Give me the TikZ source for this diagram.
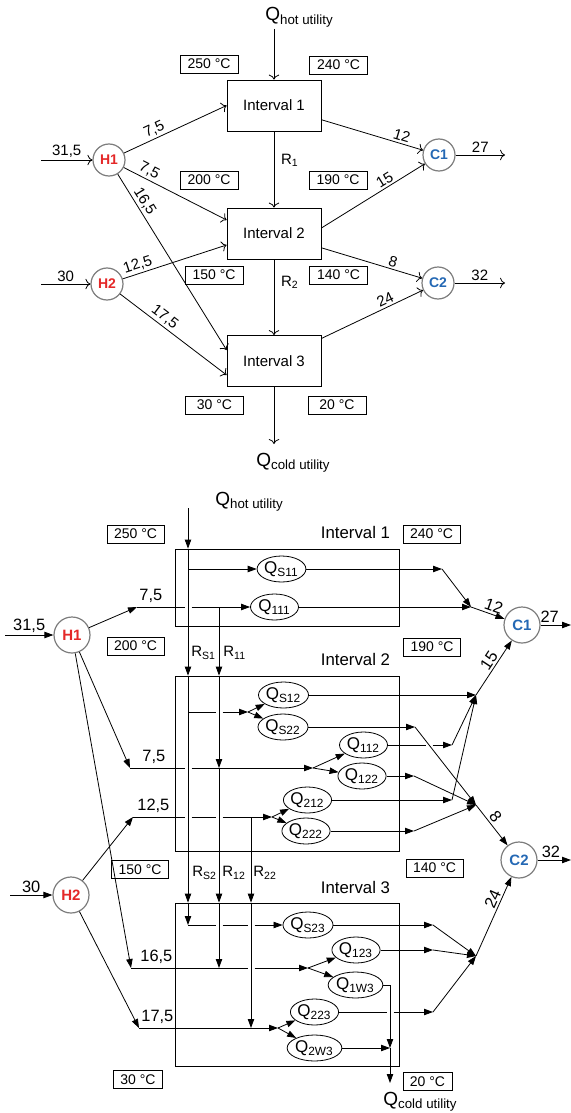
\documentclass[tikz,border=0pt]{standalone}
\usepackage{fontspec}
\setmainfont{Liberation Sans}
\usepackage{tikz}
\usetikzlibrary{shapes.geometric, positioning, calc, arrows.meta}
\definecolor{hotred}{RGB}{228,40,40}
\definecolor{coldblue}{RGB}{36,104,180}
\definecolor{rimgray}{RGB}{125,125,125}
\newcommand{\Qsub}[1]{Q\textsubscript{#1}}

\begin{document}
\begin{tikzpicture}[
    x = 0.5pt, y = -0.5pt, > = To,
    font = \fontsize{7.5}{9}\selectfont,
    interval/.style = {
      rectangle, draw, minimum width = 47pt, minimum height = 25.5pt
    },
    cell/.style = {
      rectangle, draw, minimum width = 112pt
    },
    temp/.style = {
      rectangle, draw, inner sep = 0pt, minimum width = 29pt, minimum height = 9pt,
      font = \fontsize{7}{8}\selectfont
    },
    tempb/.style = {
      rectangle, draw, inner xsep = 3.5pt, inner ysep = 0pt, minimum height = 9pt,
      font = \fontsize{7}{8}\selectfont
    },
    hot/.style = {
      circle, draw = rimgray, line width = 0.6pt, inner sep = 0pt,
      minimum size = 16pt, text = hotred, font = \fontsize{7}{8}\selectfont\bfseries
    },
    cold/.style = {hot, text = coldblue},
    hotb/.style = {
      hot, minimum size = 18pt, font = \fontsize{7.5}{8}\selectfont\bfseries
    },
    coldb/.style = {hotb, text = coldblue},
    heat/.style = {
      ellipse, draw, inner sep = 0pt, minimum width = 24pt, minimum height = 13pt,
      font = \fontsize{8.5}{9}\selectfont
    },
    utility/.style = {inner sep = 0pt, font = \fontsize{9.5}{10}\selectfont},
    link/.style = {->},
    flow/.style = {-{Triangle[length = 4.5pt, width = 3.2pt]}},
    lbl/.style = {inner sep = 1pt},
    lblb/.style = {inner sep = 1pt, font = \fontsize{8.2}{9}\selectfont},
    ]
\useasboundingbox  (0,0)  rectangle  (571,1113);

% overview of the cascade
\node  [interval]  (I1)  at  (274,105.5)  {Interval 1};
\node  [interval]  (I2)  at  (274,233.5)  {Interval 2};
\node  [interval]  (I3)  at  (274,361)  {Interval 3};
\node  [hot]  (H1)  at  (109,160)  {H1};
\node  [hot]  (H2)  at  (107,284)  {H2};
\node  [cold]  (C1)  at  (439,155)  {C1};
\node  [cold]  (C2)  at  (438,283)  {C2};
\node  [temp]  (T250)  at  (209,64)  {250 °C};
\node  [temp]  (T240)  at  (338.5,65)  {240 °C};
\node  [temp]  (T200)  at  (209,180)  {200 °C};
\node  [temp]  (T190)  at  (338,180)  {190 °C};
\node  [temp]  (T150)  at  (214,275)  {150 °C};
\node  [temp]  (T140)  at  (338.5,275)  {140 °C};
\node  [temp]  (T30)  at  (214.5,405)  {30 °C};
\node  [temp]  (T20)  at  (337,405)  {20 °C};
\node  [utility, anchor = base west]  (Qhot)  at  (265,21)  {\Qsub{hot utility}};
\node  [utility, anchor = base west]  (Qcold)  at  (256,466)  {\Qsub{cold utility}};
\coordinate  (qh)  at  (274,29);
\coordinate  (qc)  at  (274,444);
\coordinate  (in_H1)  at  (41,160);
\coordinate  (in_H2)  at  (41,284);
\coordinate  (out_C1)  at  (505,155);
\coordinate  (out_C2)  at  (505,283);

\draw  [link]  (qh)  --  (I1);
\draw  [link]  (I1)  to node  [right, pos = 0.38]  {R\textsubscript{1}}  (I2);
\draw  [link]  (I2)  to node  [right, pos = 0.3]  {R\textsubscript{2}}  (I3);
\draw  [link]  (I3)  --  (qc);
\draw  [link]  (in_H1)  to node  [above, lbl]  {31,5}  (H1);
\draw  [link]  (in_H2)  to node  [above, lbl]  {30}  (H2);
\draw  [link]  (C1)  to node  [above, lbl]  {27}  (out_C1);
\draw  [link]  (C2)  to node  [above, lbl]  {32}  (out_C2);
\draw  [link]  (H1)  to node  [sloped, above, lbl, pos = 0.33]  {7,5}  (I1.west);
\draw  [link]  (H1)  to node  [sloped, above, lbl, pos = 0.21]  {7,5}  ([yshift = 6.75pt]I2.west);
\draw  [link]  (H1)  to node  [sloped, above, lbl, pos = 0.18]  {16,5}  ([yshift = 5.5pt]I3.west);
\draw  [link]  (H2)  to node  [sloped, above, lbl, pos = 0.17]  {12,5}  ([yshift = -5.75pt]I2.west);
\draw  [link]  (H2)  to node  [sloped, above, lbl, pos = 0.37]  {17,5}  ([yshift = -7pt]I3.west);
\draw  [link]  (I1)  to node  [sloped, above, lbl, pos = 0.77]  {12}  (C1);
\draw  [link]  ([yshift = 2.75pt]I2.east)  to node  [sloped, above, lbl, pos = 0.65]  {15}  (C1);
\draw  [link]  (I2)  to node  [sloped, above, lbl, pos = 0.69]  {8}  (C2);
\draw  [link]  (I3)  to node  [sloped, above, lbl, pos = 0.66]  {24}  (C2);

% detailed cascade
\node  [cell, minimum height = 38.5pt]  (B1)  at  (287,587.5)  {};
\node  [cell, minimum height = 87.5pt]  (B2)  at  (287,763.5)  {};
\node  [cell, minimum height = 81.5pt]  (B3)  at  (287,984.5)  {};
\node  [lblb, font = \fontsize{8.4}{9}\selectfont, above left = 4pt and 3.5pt of B1.north east]  (B1_name)  {Interval 1};
\node  [lblb, font = \fontsize{8.4}{9}\selectfont, above left = 4pt and 3.5pt of B2.north east]  (B2_name)  {Interval 2};
\node  [lblb, font = \fontsize{8.4}{9}\selectfont, above left = 3.5pt and 3.5pt of B3.north east]  (B3_name)  {Interval 3};
\node  [hotb]  (H1b)  at  (72,635)  {H1};
\node  [hotb]  (H2b)  at  (71,895)  {H2};
\node  [coldb]  (C1b)  at  (522,625)  {C1};
\node  [coldb]  (C2b)  at  (519,860)  {C2};
\node  [tempb]  (T250b)  at  (135.5,534)  {250 °C};
\node  [tempb]  (T240b)  at  (431.5,534)  {240 °C};
\node  [tempb]  (T200b)  at  (135.5,646)  {200 °C};
\node  [tempb]  (T190b)  at  (432,647)  {190 °C};
\node  [tempb]  (T150b)  at  (140,869.5)  {150 °C};
\node  [tempb]  (T140b)  at  (434.5,868)  {140 °C};
\node  [tempb]  (T30b)  at  (138,1079.5)  {30 °C};
\node  [tempb]  (T20b)  at  (427.5,1081.5)  {20 °C};
\node  [utility, anchor = base west]  (Qhotb)  at  (215,505)  {\Qsub{hot utility}};
\node  [utility, anchor = base west]  (Qcoldb)  at  (383,1105)  {\Qsub{cold utility}};

\node  [heat]  (QS11)  at  (281.5,569)  {\Qsub{S11}};
\node  [heat]  (Q111)  at  (274.5,607)  {\Qsub{111}};
\node  [heat]  (QS12)  at  (283.5,695)  {\Qsub{S12}};
\node  [heat]  (QS22)  at  (283,727)  {\Qsub{S22}};
\node  [heat]  (Q112)  at  (363.5,745)  {\Qsub{112}};
\node  [heat]  (Q122)  at  (362,776)  {\Qsub{122}};
\node  [heat]  (Q212)  at  (307.5,800)  {\Qsub{212}};
\node  [heat]  (Q222)  at  (306,831)  {\Qsub{222}};
\node  [heat]  (QS23)  at  (308,925)  {\Qsub{S23}};
\node  [heat]  (Q123)  at  (356,950)  {\Qsub{123}};
\node  [heat]  (Q1W3)  at  (355.5,985)  {\Qsub{1W3}};
\node  [heat]  (Q223)  at  (314.5,1012)  {\Qsub{223}};
\node  [heat]  (Q2W3)  at  (314.5,1048)  {\Qsub{2W3}};

\coordinate  (hu)  at  (188,508);
\coordinate  (s3)  at  (188,925);
\coordinate  (h11)  at  (137,607);
\coordinate  (h12)  at  (130,768);
\coordinate  (h13)  at  (131,968);
\coordinate  (h22)  at  (133,817);
\coordinate  (h23)  at  (139,1028);
\coordinate  (r11)  at  (219,607);
\coordinate  (r22)  at  (251,817);
\coordinate  (bS2)  at  (248,712);
\coordinate  (b12)  at  (313,768);
\coordinate  (b22)  at  (272,817);
\coordinate  (b13)  at  (308,968);
\coordinate  (b23)  at  (278,1028);
\coordinate  (k1)  at  (442,569);
\coordinate  (J12)  at  (471,607);
\coordinate  (J15)  at  (476,695);
\coordinate  (k2)  at  (452,745);
\coordinate  (k3)  at  (452,800);
\coordinate  (k4)  at  (415,727);
\coordinate  (k5)  at  (414,776);
\coordinate  (k6)  at  (414,831);
\coordinate  (cr1)  at  (429,745);
\coordinate  (J8)  at  (476,805);
\coordinate  (k7)  at  (433,925);
\coordinate  (k8)  at  (433,950);
\coordinate  (k9)  at  (433,1012);
\coordinate  (J24)  at  (476,956);
\coordinate  (w1)  at  (390,985);
\coordinate  (w2)  at  (390,1048);
\coordinate  (qcb)  at  (390,1083);
\coordinate  (in_H1b)  at  (5,635);
\coordinate  (in_H2b)  at  (10,895);
\coordinate  (out_C1b)  at  (571,625);
\coordinate  (out_C2b)  at  (571,860);

\node  [lblb, above right = 1pt and 0pt of h11]  (l_h11)  {7,5};
\node  [lblb, above right = 1pt and 5pt of h12]  (l_h12)  {7,5};
\node  [lblb, above right = 1pt and 3.5pt of h13]  (l_h13)  {16,5};
\node  [lblb, above right = 1pt and 1pt of h22]  (l_h22)  {12,5};
\node  [lblb, above right = 1pt and 0pt of h23]  (l_h23)  {17,5};
\node  [anchor = west, inner sep = 0pt]  (l_RS1)  at  (191,653)  {R\textsubscript{S1}};
\node  [anchor = west, inner sep = 0pt]  (l_R11)  at  (223,653)  {R\textsubscript{11}};
\node  [anchor = west, inner sep = 0pt]  (l_RS2)  at  (192,873)  {R\textsubscript{S2}};
\node  [anchor = west, inner sep = 0pt]  (l_R12)  at  (222,873)  {R\textsubscript{12}};
\node  [anchor = west, inner sep = 0pt]  (l_R22)  at  (253,873)  {R\textsubscript{22}};

% streams into the intervals
\draw  [flow]  (in_H1b)  to node  [above, lblb]  {31,5}  (H1b);
\draw  [flow]  (in_H2b)  to node  [above, lblb]  {30}  (H2b);
\draw  [flow]  (H1b)  --  (h11);
\draw  [flow]  (H1b)  --  (h12);
\draw  [flow]  (H1b)  --  (h13);
\draw  [flow]  (H2b)  --  (h22);
\draw  [flow]  (H2b)  --  (h23);

% hot utility and residuals
\draw  [flow]  (hu)  --  (hu |- B1.north);
\draw  [flow]  (hu |- B1.north)  --  (hu |- B2.north);
\draw  [flow]  (hu |- B2.north)  --  (hu |- B3.north);
\draw  [flow]  (hu |- B3.north)  --  (s3);
\draw  [flow]  (hu |- QS11)  --  (QS11.west);
\draw  (hu |- bS2)  --  ($(r11 |- bS2) + (-3.5,0)$);
\draw  [flow]  ($(r11 |- bS2) + (3.5,0)$)  --  (bS2);
\draw  [flow]  (bS2)  --  (QS12);
\draw  [flow]  (bS2)  --  (QS22);
\draw  (s3)  --  ($(r11 |- s3) + (-3.5,0)$);
\draw  ($(r11 |- s3) + (3.5,0)$)  --  ($(r22 |- s3) + (-3.5,0)$);
\draw  [flow]  ($(r22 |- s3) + (3.5,0)$)  --  (QS23.west);

\draw  (h11)  --  ($(hu |- h11) + (-3.5,0)$);
\draw  [flow]  ($(hu |- h11) + (3.5,0)$)  --  (Q111.west);
\draw  [flow]  (r11)  --  (r11 |- B2.north);
\draw  [flow]  (r11 |- B2.north)  --  (r11 |- h12);
\draw  (h12)  --  ($(hu |- h12) + (-3.5,0)$);
\draw  [flow]  ($(hu |- h12) + (3.5,0)$)  --  (b12);
\draw  [flow]  (b12)  --  (Q112);
\draw  [flow]  (b12)  --  (Q122);
\draw  [flow]  (r11 |- h12)  --  (r11 |- B3.north);
\draw  [flow]  (r11 |- B3.north)  --  (r11 |- h13);
\draw  (h13)  --  ($(r22 |- h13) + (-3.5,0)$);
\draw  [flow]  ($(r22 |- h13) + (3.5,0)$)  --  (b13);
\draw  [flow]  (b13)  --  (Q123);
\draw  [flow]  (b13)  --  (Q1W3);

\draw  (h22)  --  ($(hu |- h22) + (-3.5,0)$);
\draw  ($(hu |- h22) + (3.5,0)$)  --  ($(r11 |- h22) + (-3.5,0)$);
\draw  [flow]  ($(r11 |- h22) + (3.5,0)$)  --  (b22);
\draw  [flow]  (b22)  --  (Q212);
\draw  [flow]  (b22)  --  (Q222);
\draw  [flow]  (r22)  --  (r22 |- B3.north);
\draw  [flow]  (r22 |- B3.north)  --  (r22 |- h23);
\draw  [flow]  (h23)  --  (b23);
\draw  [flow]  (b23)  --  (Q223);
\draw  [flow]  (b23)  --  (Q2W3);

% mixing to the cold streams
\draw  [flow]  (QS11.east)  --  (k1);
\draw  [flow]  (k1)  --  (J12);
\draw  [flow]  (Q111.east)  --  (J12);
\draw  [flow]  (J12)  to node  [sloped, above, lblb, pos = 0.6]  {12}  (C1b);
\draw  [flow]  (C1b)  to node  [above, lblb, pos = 0.3]  {27}  (out_C1b);
\draw  [flow]  (QS12.east)  --  (J15);
\draw  (Q112.east)  --  ($(cr1) + (-3.5,0)$);
\draw  [flow]  ($(cr1) + (3.5,0)$)  --  (k2);
\draw  [flow]  (k2)  --  (J15);
\draw  [flow]  (Q212.east)  --  (k3);
\draw  [flow]  (k3)  --  (J15);
\draw  [flow]  (J15)  to node  [sloped, above, lblb, pos = 0.55]  {15}  (C1b);
\draw  [flow]  (QS22.east)  --  (k4);
\draw  [flow]  (k4)  --  (J8);
\draw  [flow]  (Q122.east)  --  (k5);
\draw  [flow]  (k5)  --  (J8);
\draw  [flow]  (Q222.east)  --  (k6);
\draw  [flow]  (k6)  --  (J8);
\draw  [flow]  (J8)  to node  [sloped, above, lblb, pos = 0.42]  {8}  (C2b);
\draw  [flow]  (C2b)  to node  [above, lblb, pos = 0.4]  {32}  (out_C2b);
\draw  [flow]  (QS23.east)  --  (k7);
\draw  [flow]  (k7)  --  (J24);
\draw  [flow]  (Q123.east)  --  (k8);
\draw  [flow]  (k8)  --  (J24);
\draw  (Q223.east)  --  ($(w1 |- Q223) + (-3.5,0)$);
\draw  [flow]  ($(w1 |- Q223) + (3.5,0)$)  --  (k9);
\draw  [flow]  (k9)  --  (J24);
\draw  [flow]  (J24)  to node  [sloped, above, lblb, pos = 0.68]  {24}  (C2b);
\draw  (Q1W3.east)  --  (w1);
\draw  [flow]  (w1)  --  (w2);
\draw  [flow]  (Q2W3.east)  --  (w2);
\draw  [flow]  (w2)  --  (qcb);
\end{tikzpicture}
\end{document}
